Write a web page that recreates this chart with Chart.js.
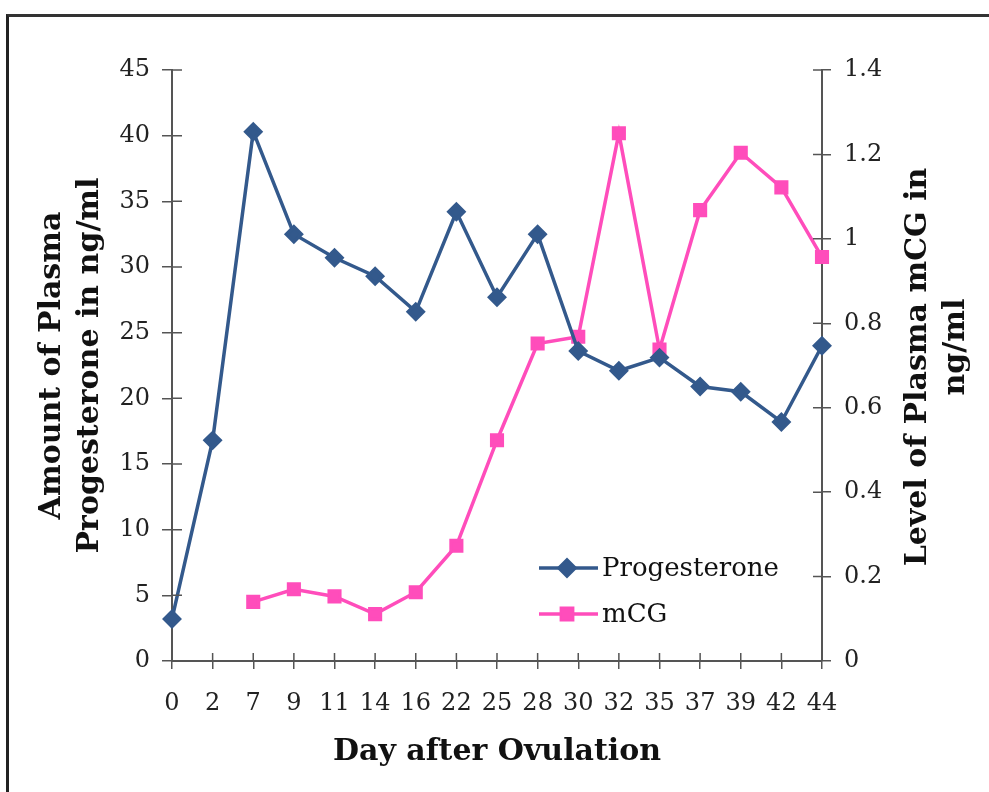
<!DOCTYPE html>
<html>
<head>
<meta charset="utf-8">
<script src="https://cdn.jsdelivr.net/npm/chart.js@4"></script>
<style>
  body { margin: 0; background: #fff; }
  #wrap { position: relative; width: 989px; height: 792px; overflow: hidden; }
  #frame { position: absolute; left: 6px; top: 14px; width: 1000px; height: 800px;
           border-left: 3px solid #222; border-top: 3px solid #333; }
  canvas { position: absolute; left: 0; top: 0; }
</style>
</head>
<body>
<div id="wrap">
  <div id="frame"></div>
  <canvas id="myChart" width="989" height="792"></canvas>
</div>
<script>
// days after ovulation (category axis)
var days = ['0', '2', '7', '9', '11', '14', '16', '22', '25', '28', '30', '32', '35', '37', '39', '42', '44'];
// plasma progesterone, ng/ml (left axis)
var progesterone = [3.2, 16.8, 40.3, 32.5, 30.7, 29.3, 26.6, 34.2, 27.7, 32.5, 23.6, 22.1, 23.1, 20.9, 20.5, 18.2, 24.0];
// plasma mCG, ng/ml (right axis)
var mcg = [null, null, 0.14, 0.17, 0.153, 0.111, 0.163, 0.273, 0.523, 0.752, 0.768, 1.25, 0.738, 1.068, 1.204, 1.122, 0.957];
var rightTitle = ['Level of Plasma mCG in', 'ng/ml'];

var blue = '#33598c';
var pink = '#ff4dbb';
var tickFont = { family: 'DejaVu Serif', size: 24 };
var titleFont = { family: 'DejaVu Serif', size: 30, weight: 'bold', lineHeight: 1.28 };

// legend drawn inside the plot area, like the original
const insideLegend = {
  id: 'insideLegend',
  afterDraw(chart) {
    const ctx = chart.ctx;
    const items = [
      { label: 'Progesterone', color: blue, style: 'rectRot', y: 568 },
      { label: 'mCG', color: pink, style: 'rect', y: 614 }
    ];
    ctx.save();
    items.forEach(function (it) {
      ctx.strokeStyle = it.color;
      ctx.lineWidth = 3.5;
      ctx.beginPath();
      ctx.moveTo(539, it.y);
      ctx.lineTo(598, it.y);
      ctx.stroke();
      ctx.fillStyle = it.color;
      Chart.helpers.drawPoint(ctx, { pointStyle: it.style, radius: 8, borderWidth: 1 }, 567, it.y);
      ctx.fill();
      ctx.fillStyle = '#111';
      ctx.font = '26px "DejaVu Serif"';
      ctx.textBaseline = 'middle';
      ctx.fillText(it.label, 602, it.y + 1);
    });
    ctx.restore();
  }
};

// tick marks cross the axis lines; also right title reads bottom-to-top
const axisExtras = {
  id: 'axisExtras',
  afterDraw(chart) {
    const ctx = chart.ctx;
    const a = chart.chartArea;
    ctx.save();
    ctx.strokeStyle = '#555';
    ctx.lineWidth = 1.5;
    ctx.beginPath();
    var x = chart.scales.x;
    x.ticks.forEach(function (t, i) {
      var px = x.getPixelForTick(i);
      ctx.moveTo(px, a.bottom);
      ctx.lineTo(px, a.bottom - 8);
    });
    var y = chart.scales.y;
    y.ticks.forEach(function (t, i) {
      var py = y.getPixelForTick(i);
      ctx.moveTo(a.left, py);
      ctx.lineTo(a.left + 10, py);
    });
    var y1 = chart.scales.y1;
    y1.ticks.forEach(function (t, i) {
      var py = y1.getPixelForTick(i);
      ctx.moveTo(a.right, py);
      ctx.lineTo(a.right - 9, py);
    });
    ctx.stroke();

    ctx.fillStyle = '#111';
    ctx.font = 'bold 30px "DejaVu Serif"';
    ctx.textAlign = 'center';
    ctx.textBaseline = 'middle';
    ctx.translate(918, 367);
    ctx.rotate(-Math.PI / 2);
    ctx.fillText(rightTitle[0], 0, 0);
    ctx.fillText(rightTitle[1], 20, 38);
    ctx.restore();
  }
};

const data = {
  labels: days,
  datasets: [{
    label: 'Progesterone',
    data: progesterone,
    borderColor: blue,
    backgroundColor: blue,
    borderWidth: 3.5,
    pointStyle: 'rectRot',
    pointRadius: 7.5,
    yAxisID: 'y'
  }, {
    label: 'mCG',
    data: mcg,
    borderColor: pink,
    backgroundColor: pink,
    borderWidth: 3.5,
    pointStyle: 'rect',
    pointRadius: 7.5,
    yAxisID: 'y1'
  }]
};

const config = {
  type: 'line',
  data,
  plugins: [insideLegend, axisExtras],
  options: {
    responsive: false,
    animation: false,
    layout: { padding: { top: 70, left: 0, right: 0, bottom: 0 } },
    plugins: {
      legend: { display: false },
      tooltip: { enabled: false }
    },
    scales: {
      x: {
        offset: false,
        grid: { drawOnChartArea: false, color: '#555', tickLength: 8, lineWidth: 1.5 },
        border: { color: '#555', width: 2 },
        ticks: { font: tickFont, color: '#222', maxRotation: 0, autoSkip: false, padding: 20 },
        title: { display: true, text: 'Day after Ovulation', font: { family: 'DejaVu Serif', size: 30, weight: 'bold' }, color: '#111', padding: { top: 0, bottom: 22 } },
        afterFit: function (s) { s.height = 131; }
      },
      y: {
        position: 'left',
        min: 0, max: 45,
        grid: { drawOnChartArea: false, color: '#555', tickLength: 10, lineWidth: 1.5 },
        border: { color: '#555', width: 2 },
        ticks: { stepSize: 5, font: tickFont, color: '#222', padding: 12 },
        title: { display: true, text: ['Amount of Plasma', 'Progesterone in ng/ml'], font: titleFont, color: '#111', padding: { top: 33 } },
        afterFit: function (s) { s.width = 172; }
      },
      y1: {
        position: 'right',
        min: 0, max: 1.4,
        grid: { drawOnChartArea: false, color: '#555', tickLength: 9, lineWidth: 1.5 },
        border: { color: '#555', width: 2 },
        ticks: {
          stepSize: 0.2, font: tickFont, color: '#222', padding: 13,
          callback: function (v) { return String(+v.toFixed(1)); }
        },
        afterFit: function (s) { s.width = 167; }
      }
    }
  }
};

const myChart = new Chart(document.getElementById('myChart'), config);
</script>
</body>
</html>
